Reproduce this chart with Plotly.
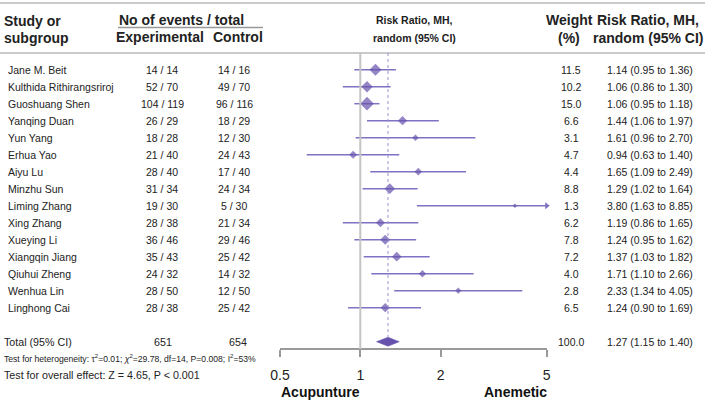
import math
import plotly.graph_objects as go

# ---------------- data ----------------
studies = ["Jane M. Beit", "Kulthida Rithirangsriroj", "Guoshuang Shen", "Yanqing Duan",
           "Yun Yang", "Erhua Yao", "Aiyu Lu", "Minzhu Sun", "Liming Zhang", "Xing Zhang",
           "Xueying Li", "Xiangqin Jiang", "Qiuhui Zheng", "Wenhua Lin", "Linghong Cai"]
exp_events = [14, 52, 104, 26, 18, 21, 28, 31, 19, 28, 36, 35, 24, 28, 28]
exp_total = [14, 70, 119, 29, 28, 40, 40, 34, 30, 38, 46, 43, 32, 50, 38]
ctrl_events = [14, 49, 96, 18, 12, 24, 17, 24, 5, 21, 29, 25, 14, 12, 25]
ctrl_total = [16, 70, 116, 29, 30, 43, 40, 34, 30, 34, 46, 42, 32, 50, 42]
weights = [11.5, 10.2, 15.0, 6.6, 3.1, 4.7, 4.4, 8.8, 1.3, 6.2, 7.8, 7.2, 4.0, 2.8, 6.5]
rr = [1.14, 1.06, 1.06, 1.44, 1.61, 0.94, 1.65, 1.29, 3.80, 1.19, 1.24, 1.37, 1.71, 2.33, 1.24]
ci_lo = [0.95, 0.86, 0.95, 1.06, 0.96, 0.63, 1.09, 1.02, 1.63, 0.86, 0.95, 1.03, 1.10, 1.34, 0.90]
ci_hi = [1.36, 1.30, 1.18, 1.97, 2.70, 1.40, 2.49, 1.64, 8.85, 1.65, 1.62, 1.82, 2.66, 4.05, 1.69]

total_exp = 651
total_ctrl = 654
total_weight = 100.0
total_rr, total_lo, total_hi = 1.27, 1.15, 1.40

tick_vals = [0.5, 1, 2, 5]
tick_text = ["0.5", "1", "2", "5"]
x_min, x_max = 0.5, 5

heterogeneity = ("Test for heterogeneity: τ<sup>2</sup>=0.01; <i>χ</i><sup>2</sup>=29.78, "
                 "df=14, P=0.008; I<sup>2</sup>=53%")
overall = "Test for overall effect: Z = 4.65, P < 0.001"
left_label = "Acupunture"
right_label = "Anemetic"

# ---------------- layout constants ----------------
W, H = 708, 402
FONT = "Liberation Sans, Arial, sans-serif"
MARK = "#6652ad"
LINE = "#7f72c4"
DOT = "#9c92d2"
GREY = "#b8b8b8"
TXT = "#222222"

ROW0, ROWH = 69.7, 17.0
row_y = [ROW0 + ROWH * i for i in range(len(studies))]
total_y = ROW0 + ROWH * 16
AXIS_Y = 349
HEAD_TOP = 53

px_left, px_right = 280, 546.7


def px(x):
    return x / W


fig = go.Figure()

# CI lines
lx, ly = [], []
for y, lo, hi in zip(row_y, ci_lo, ci_hi):
    lx += [lo, hi, None]
    ly += [y, y, None]
fig.add_trace(go.Scatter(x=lx, y=ly, mode="lines", line=dict(color=LINE, width=1.5),
                         hoverinfo="skip", showlegend=False))

# arrows for CI beyond axis
ax_, ay_ = [], []
for y, hi in zip(row_y, ci_hi):
    if hi > x_max:
        ax_.append(x_max)
        ay_.append(y)
fig.add_trace(go.Scatter(x=ax_, y=ay_, mode="markers", cliponaxis=False,
                         marker=dict(symbol="triangle-right", size=6, color=LINE),
                         hoverinfo="skip", showlegend=False))

# point estimates
sizes = [2.6 * math.sqrt(w) + 0.5 for w in weights]
fig.add_trace(go.Scatter(x=rr, y=row_y, mode="markers",
                         marker=dict(symbol="diamond", size=sizes, color=MARK, line=dict(width=0)),
                         showlegend=False))

# total diamond
fig.add_trace(go.Scatter(x=[total_lo, total_rr, total_hi, total_rr, total_lo],
                         y=[total_y, total_y - 4.5, total_y, total_y + 4.5, total_y],
                         mode="lines", fill="toself", fillcolor=MARK,
                         line=dict(color=MARK, width=0.5), showlegend=False))

shapes = [
    dict(type="line", xref="paper", yref="y", x0=0, x1=px(705), y0=3, y1=3,
         line=dict(color=GREY, width=1.5)),
    dict(type="line", xref="paper", yref="y", x0=0, x1=px(705), y0=HEAD_TOP, y1=HEAD_TOP,
         line=dict(color=GREY, width=1.5)),
    dict(type="line", xref="paper", yref="y", x0=px(118), x1=px(263), y0=27.5, y1=27.5,
         line=dict(color="#999999", width=1.5)),
    dict(type="line", xref="x", yref="y", x0=1, x1=1, y0=HEAD_TOP, y1=AXIS_Y,
         line=dict(color="#c4c4c4", width=2)),
    dict(type="line", xref="x", yref="y", x0=total_rr, x1=total_rr, y0=HEAD_TOP,
         y1=total_y - 4.5, line=dict(color=DOT, width=1, dash="dot")),
]

ann = []


def text(x, y, s, size=10.5, bold=False, anchor="left", color=TXT):
    ann.append(dict(x=px(x), y=y, xref="paper", yref="y", text=("<b>%s</b>" % s) if bold else s,
                    showarrow=False, xanchor=anchor, yanchor="middle", borderpad=0,
                    font=dict(family=FONT, size=size, color=color)))


# headers
text(3, 20.5, "Study or", 14, True)
text(3, 37.5, "subgroup", 14, True)
text(118, 20, "No of events / total", 14, True)
text(160, 37, "Experimental", 14, True, "center")
text(238, 37, "Control", 14, True, "center")
text(414, 20, "Risk Ratio, MH,", 10.5, True, "center")
text(414, 37.5, "random (95% CI)", 10.5, True, "center")
text(569, 20, "Weight", 14, True, "center")
text(581, 37.5, "(%)", 14, True, "right")
text(648, 20, "Risk Ratio, MH,", 14, True, "center")
text(648, 37.5, "random (95% CI)", 14, True, "center")

# rows
for i, y in enumerate(row_y):
    text(7, y, studies[i])
    text(162, y, "%d / %d" % (exp_events[i], exp_total[i]), anchor="center")
    text(234, y, "%d / %d" % (ctrl_events[i], ctrl_total[i]), anchor="center")
    text(571, y, "%.1f" % weights[i], anchor="center")
    text(650, y, "%.2f (%.2f to %.2f)" % (rr[i], ci_lo[i], ci_hi[i]), anchor="center")

text(3, total_y, "Total (95% CI)", 10.7)
text(163, total_y, str(total_exp), 10.7, anchor="center")
text(238, total_y, str(total_ctrl), 10.7, anchor="center")
text(571, total_y, "%.1f" % total_weight, anchor="center")
text(650, total_y, "%.2f (%.2f to %.2f)" % (total_rr, total_lo, total_hi), anchor="center")
text(3, 358.5, heterogeneity, 8.6)
text(3, 374.5, overall, 10.7)
text(px_left, 392, left_label, 14, True, "left", "#111111")
text(px_right + 1, 392, right_label, 14, True, "right", "#111111")

fig.update_layout(
    width=W, height=H, autosize=False,
    margin=dict(l=0, r=0, t=0, b=0, pad=0, autoexpand=False),
    paper_bgcolor="white", plot_bgcolor="white",
    shapes=shapes, annotations=ann,
    xaxis=dict(type="log", range=[math.log10(x_min), math.log10(x_max)],
               domain=[px_left / W, px_right / W], anchor="free", position=1 - AXIS_Y / H,
               showgrid=False, zeroline=False, showline=True, linecolor="#9a9a9a", linewidth=1.5,
               ticks="outside", ticklen=7, tickwidth=1.5, tickcolor="#9a9a9a",
               tickvals=tick_vals, ticktext=tick_text, ticklabelstandoff=6, automargin=False,
               tickfont=dict(family=FONT, size=14, color="#222222"), fixedrange=True),
    yaxis=dict(range=[H, 0], domain=[0, 1], visible=False, fixedrange=True, automargin=False),
)

fig.write_html("out.html")
